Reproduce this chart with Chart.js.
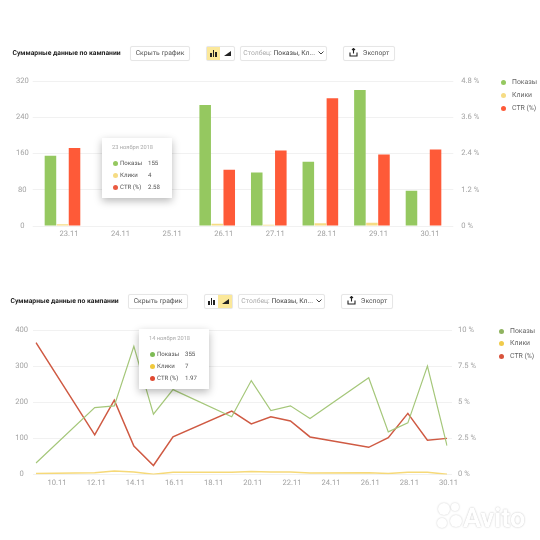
<!DOCTYPE html>
<html lang="ru">
<head>
<meta charset="utf-8">
<script src="https://cdn.jsdelivr.net/npm/chart.js@4"></script>
<style>
html,body{margin:0;padding:0;background:#fff;width:540px;height:540px;overflow:hidden}
body{position:relative;font-family:Roboto,"Open Sans",sans-serif;text-rendering:geometricPrecision}
#all{position:absolute;left:0;top:0;width:540px;height:540px;filter:blur(0.4px)}
canvas{position:absolute;left:0;display:block}
.t{position:absolute;white-space:nowrap;line-height:1}
.title{font-size:6.8px;font-weight:700;color:#222}
.btn{position:absolute;box-sizing:border-box;height:15px;border:1px solid #e6e6e6;border-radius:2px;background:#fff;font-size:6.8px;color:#555;line-height:13px;text-align:center;white-space:nowrap;box-shadow:0 0 1px rgba(0,0,0,.06)}
.seg{position:absolute;top:0;bottom:0;width:50%}
.on{background:#fbe89a}
.dot{position:absolute;width:5px;height:5px;border-radius:50%}
.lg{font-size:6.9px;color:#666}
.tip{position:absolute;background:#fff;box-shadow:0 3px 8px rgba(0,0,0,.28);width:70px;height:60px}
.tip .t{font-size:6.1px;color:#555}
.tip .d{color:#aaa;font-size:5.7px}
</style>
</head>
<body>
<div id="all">
<canvas id="c1" width="540" height="270" style="top:0;width:540px;height:270px"></canvas>
<canvas id="c2" width="540" height="220" style="top:280px;width:540px;height:220px"></canvas>
<div id="ui"></div>
</div>
<script>
// ---- data: top chart (bars) ----
const barDays = ['23.11','24.11','25.11','26.11','27.11','28.11','29.11','30.11'];
const barShows = [155,null,null,267,118,142,300,78];
const barClicks = [4,null,null,5,3,6,7,1];
const barCtr = [2.58,null,null,1.86,2.5,4.23,2.37,2.53];
const barLeftTicks = [0,80,160,240,320];
const barRightTicks = [0,1.2,2.4,3.6,4.8];

// ---- data: bottom chart (lines) ----
const lineDays = ['9.11','10.11','11.11','12.11','13.11','14.11','15.11','16.11','17.11','18.11','19.11','20.11','21.11','22.11','23.11','24.11','25.11','26.11','27.11','28.11','29.11','30.11'];
const lineShows = [32,null,null,185,190,355,167,235,null,null,160,260,177,190,155,null,null,268,118,143,300,80];
const lineClicks = [3,null,null,5,10,7,1,6,null,null,6,8,7,7,4,null,null,5,3,6,6,1];
const lineCtr = [9.13,null,null,2.74,5.15,1.97,0.62,2.6,null,null,4.39,3.5,4.0,3.7,2.6,null,null,1.88,2.55,4.23,2.37,2.5];
const lineLeftTicks = [0,100,200,300,400];
const lineRightTicks = [0,2.5,5,7.5,10];

// ---- text ----
const seriesNames = ['Показы','Клики','CTR (%)'];
const heading = 'Суммарные данные по кампании';
const hideLabel = 'Скрыть график';
const exportLabel = 'Экспорт';
const tipTop = {date:'23 ноября 2018', values:['155','4','2.58']};
const tipBottom = {date:'14 ноября 2018', values:['355','7','1.97']};

const GREY = '#a3a3a3', GRID = '#f1f1f1';
const tickFont = {family:'Roboto', size:7.6};
const preciseText = {id:'preciseText',beforeDraw(c){c.ctx.textRendering='geometricPrecision';}};

function fixedY(width){ return s => { s.width = width; }; }
function fixedX(height){ return s => { s.height = height; }; }
function yAxis(pos, ticks, fmt, width, tl, pad, isMain){
  return {
    type:'linear', position:pos, min:ticks[0], max:ticks[ticks.length-1],
    afterFit:fixedY(width),
    afterBuildTicks:a=>{a.ticks=ticks.map(v=>({value:v}));},
    border:{display:false},
    grid:{color:GRID, drawOnChartArea:isMain, drawTicks:true, tickLength:tl, tickColor:GRID, lineWidth:1},
    ticks:{color:GREY, font:tickFont, padding:pad, callback:fmt, crossAlign:isMain?'center':'near'}
  };
}
const xGrid = {display:false,drawTicks:false,tickLength:0};

new Chart(document.getElementById('c1'),{
  type:'bar',
  plugins:[preciseText],
  data:{labels:barDays,datasets:[
    {label:seriesNames[0],data:barShows,backgroundColor:'#95c860',yAxisID:'y'},
    {label:seriesNames[1],data:barClicks,backgroundColor:'#f6dc84',yAxisID:'y'},
    {label:seriesNames[2],data:barCtr,backgroundColor:'#fe5a38',yAxisID:'y1'}
  ]},
  options:{
    responsive:false,animation:false,
    layout:{padding:{top:81}},
    plugins:{legend:{display:false},tooltip:{enabled:false}},
    datasets:{bar:{categoryPercentage:0.7,barPercentage:0.96}},
    scales:{
      x:{afterFit:fixedX(44),grid:xGrid,border:{color:GRID},
         ticks:{color:GREY,font:tickFont,padding:4,labelOffset:6.5,maxRotation:0,autoSkip:false}},
      y:yAxis('left',barLeftTicks,v=>String(v),36.7,4,4,true),
      y1:yAxis('right',barRightTicks,v=>v+' %',90.7,4,8,false)
    }
  }
});

new Chart(document.getElementById('c2'),{
  type:'line',
  plugins:[preciseText],
  data:{labels:lineDays,datasets:[
    {label:seriesNames[0],data:lineShows,borderColor:'#a5c77a',borderWidth:1.2,yAxisID:'y'},
    {label:seriesNames[1],data:lineClicks,borderColor:'#f6d978',borderWidth:1.5,yAxisID:'y'},
    {label:seriesNames[2],data:lineCtr,borderColor:'#cf5a43',borderWidth:1.5,yAxisID:'y1'}
  ]},
  options:{
    responsive:false,animation:false,
    layout:{padding:{top:50}},
    spanGaps:true,
    elements:{point:{radius:0},line:{tension:0}},
    plugins:{legend:{display:false},tooltip:{enabled:false}},
    scales:{
      x:{afterFit:fixedX(25.5),offset:false,grid:xGrid,border:{color:GRID},
         ticks:{color:GREY,font:tickFont,padding:4,labelOffset:1.5,maxRotation:0,autoSkip:false,
                callback:(v,i)=>i%2===1?lineDays[i]:''}},
      y:yAxis('left',lineLeftTicks,v=>String(v),36,3,5,true),
      y1:yAxis('right',lineRightTicks,v=>v+' %',93,5,6,false)
    }
  }
});

// ---- page furniture ----
const ui = document.getElementById('ui');
function el(cls,css,txt,parent){
  const d=document.createElement('div');d.className=cls;d.style.cssText=css;
  if(txt!==undefined)d.textContent=txt;(parent||ui).appendChild(d);return d;
}
function header(o){
  const y=o.y;
  el('t title',`left:${o.title}px;top:${y+4}px`,heading);
  el('btn',`left:${o.hide}px;top:${y}px;width:60px`,hideLabel);
  const tog=el('btn',`left:${o.tog}px;top:${y}px;width:29px;padding:0`);
  const a=el('seg'+(o.active===0?' on':''),'left:0',undefined,tog);
  const b=el('seg'+(o.active===1?' on':''),'right:0',undefined,tog);
  [[4,4],[6.5,7],[9,5]].forEach(p=>el('',`position:absolute;bottom:3.5px;left:${p[0]-0.5}px;width:1.7px;height:${p[1]}px;background:#222`,undefined,a));
  el('',`position:absolute;bottom:4px;left:4px;width:0;height:0;border-left:7px solid transparent;border-bottom:5px solid #222`,undefined,b);
  const s=el('btn',`left:${o.sel}px;top:${y}px;width:87px`,undefined);
  s.innerHTML='<span style="color:#aaa">Столбец:</span> <span style="color:#444">Показы, Кл...</span> <svg width="6" height="4" viewBox="0 0 6 4" style="margin-left:1px"><path d="M0.5 0.5L3 3L5.5 0.5" fill="none" stroke="#444" stroke-width="1"/></svg>';
  const e=el('btn',`left:${o.exp}px;top:${y}px;width:52px`);
  e.innerHTML='<svg width="9" height="9" viewBox="0 0 9 9" style="vertical-align:-2px;margin-right:5px"><path d="M4.5 0.5v5M3 2l1.5-1.5L6 2M1 4.5v3.5h7V4.5" fill="none" stroke="#222" stroke-width="1.1"/></svg>'+exportLabel;
}
function legend(o){
  seriesNames.forEach((n,i)=>{
    const y=o.y+i*o.step;
    el('dot',`left:${o.x-2.5}px;top:${y-2.5}px;background:${o.colors[i]}`);
    el('t lg',`left:${o.x+8.5}px;top:${y-3.5}px`,n);
  });
}
function tip(o,info){
  const t=el('tip',`left:${o.x}px;top:${o.y}px`);
  el('t d','left:10px;top:8px',info.date,t);
  seriesNames.forEach((n,i)=>{
    const y=25.5+i*12;
    el('dot',`left:11px;top:${y-2.5}px;background:${o.colors[i]}`,undefined,t);
    el('t',`left:18px;top:${y-3}px`,n,t);
    el('t',`left:46px;top:${y-3}px`,info.values[i],t);
  });
}
header({y:46,title:12.5,hide:130,tog:205.5,sel:240,exp:343,active:0});
header({y:294,title:10.5,hide:128,tog:203.5,sel:238,exp:341,active:1});
legend({x:503.5,y:82,step:13,colors:['#95c860','#f6dc84','#fe5a38']});
legend({x:501.5,y:331,step:12.5,colors:['#8fb35f','#f0cb4b','#d8533c']});
tip({x:102,y:138,colors:['#95c860','#f6dc84','#ea5b42']},tipTop);
tip({x:139,y:329,colors:['#7dbb55','#f0c93c','#e04a32']},tipBottom);

// watermark
const shadow='text-shadow:0 0 2px rgba(0,0,0,.2),0 0 1px rgba(0,0,0,.12)';
el('t',`left:463px;top:502px;font:700 27px Roboto;color:#fff;${shadow}`,'Avito');
[[444,509,6],[455,507,4],[456,521,6],[442,523,5]].forEach(c=>{
  el('',`position:absolute;left:${c[0]-c[2]}px;top:${c[1]-c[2]}px;width:${2*c[2]}px;height:${2*c[2]}px;border-radius:50%;background:#fff;box-shadow:0 0 2px rgba(0,0,0,.22)`);
});
</script>
</body>
</html>
